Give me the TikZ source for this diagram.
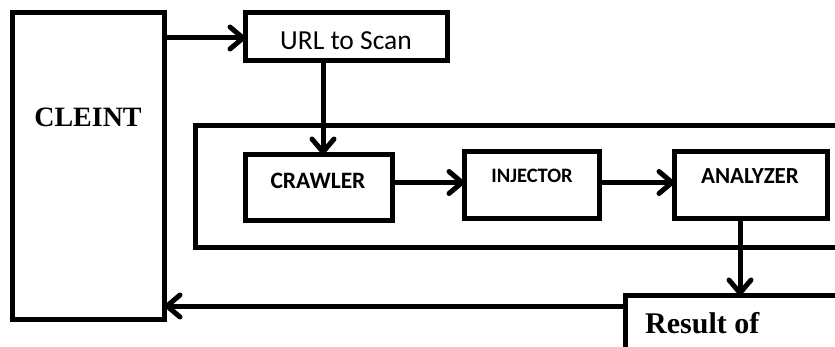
\documentclass[tikz,border=0pt]{standalone}
\usepackage{fontspec}
\usetikzlibrary{arrows.meta}
\newfontfamily\calibrifont{Carlito}
\newfontfamily\serifbold{Liberation Serif}[BoldFont={Liberation Serif Bold}]
\tikzset{
  box/.style={draw=black, line width=5pt, fill=white, inner sep=0pt, outer sep=0pt},
  flow/.style={line width=5pt, line cap=round,
    -{Straight Barb[length=13pt,width=22pt,line width=5pt,round]}},
  lbl/.style={inner sep=0pt, anchor=base, text=black},
}
\begin{document}
\begin{tikzpicture}[x=1pt, y=-1pt]
  \useasboundingbox (0,0) rectangle (835,347);
  \fill[white] (0,0) rectangle (835,347);
  \clip (0,0) rectangle (835,347);

  % main blocks
  \node[box, minimum width=152pt, minimum height=307pt] (client) at (88.5,166) {};
  \node[box, minimum width=202pt, minimum height=48pt] (url) at (346.5,36.5) {};
  % scanner frame, running past the right edge
  \node[box, fill=none, minimum width=660pt, minimum height=122pt, anchor=north west] (engine) at (195.5,125.5) {};
  \node[box, minimum width=147pt, minimum height=66pt] (crawler) at (319,187.5) {};
  \node[box, minimum width=135pt, minimum height=67pt] (injector) at (532,185) {};
  \node[box, minimum width=153pt, minimum height=67pt] (analyzer) at (751,185) {};
  % result box, cut by the page edges
  \node[box, minimum width=260pt, minimum height=60pt, anchor=north west] (result) at (625.5,295.5) {};

  % labels
  \node[lbl] (clientlbl) at (88,127) {\serifbold\bfseries\fontsize{28}{30}\selectfont CLEINT};
  \node[lbl] (urllbl) at (346,49.3) {\calibrifont\fontsize{27.5}{30}\selectfont URL to Scan};
  \node[lbl] (crawlerlbl) at (318,189) {\calibrifont\bfseries\fontsize{23.5}{26}\selectfont CRAWLER};
  \node[lbl] (injectorlbl) at (532,183) {\calibrifont\bfseries\fontsize{20.5}{23}\selectfont INJECTOR};
  \node[lbl] (analyzerlbl) at (750,184) {\calibrifont\bfseries\fontsize{23}{26}\selectfont ANALYZER};
  \node[lbl, anchor=base west] (resultlbl) at (645,333) {\serifbold\bfseries\fontsize{30}{32}\selectfont Result of};

  % connectors
  \draw[flow] (client.east |- 0,38) -- (url.west |- 0,38);
  \draw[flow] (url.south -| 323,0) -- (crawler.north -| 323,0);
  \draw[flow] (crawler.east |- 0,182.5) -- (injector.west |- 0,182.5);
  \draw[flow] (injector.east |- 0,182.5) -- (analyzer.west |- 0,182.5);
  \draw[flow] (analyzer.south -| 740,0) -- (result.north -| 740,0);
  \draw[flow] (result.west |- 0,306) -- (client.east |- 0,306);
\end{tikzpicture}
\end{document}
